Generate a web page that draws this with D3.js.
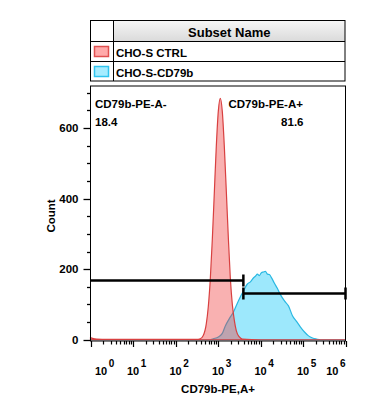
<!DOCTYPE html>
<html><head><meta charset="utf-8">
<script src="https://cdn.jsdelivr.net/npm/d3@7"></script>
<style>
html,body{margin:0;padding:0;background:#fff;}
svg text{font-family:"Liberation Sans",Arial,sans-serif;font-weight:bold;fill:#000;}
</style></head>
<body><svg id="c" width="367" height="413"></svg>
<script>
// ---- data ----
const xTickExponents = [0,1,2,3,4,5,6];
const yTickValues = [0,200,400,600];
const legendNames = ["CHO-S CTRL","CHO-S-CD79b"];
const gateNames = ["CD79b-PE-A-","CD79b-PE-A+"];
const gatePercents = ["18.4","81.6"];
const gateLeftRange = [1, 3953];
const gateRightRange = [3953, 1000000];
const gateLevels = [169, 133];

const ctrlIntensity = [1,1.12,1.41,2.5,10,32,100,250,308,383,450,530,590,658,733,818,912,1016,1133,1262,1408,1570,1750,1950,2173,2422,2702,3178,3740,10000,100000,1000000];
const ctrlCount     = [6,4,2,1,1,1,1,1,1,3,12,45,93,171,281,415,548,647,684,647,548,420,290,175,100,55,25,8,2,0,0,0];

const cd79Intensity = [1,658,774,1016,1262,1486,1849,2297,3013,3953,4912,5781,6805,7590,8457,9424,10500,11700,13050,14550,16220,18080,21280,25060,29450,36640,45500,56500,70300,87300,108400,134900,167500,208000,258800,1000000];
const cd79Count     = [0,0,3,8,18,39,60,78,110,138,158,164,175,180,186,182,190,192,194,186,185,176,160,145,128,110,96,68,52,36,22,11,5,2,0,0];

// ---- layout ----
const L = 90.5, R = 345.5, T = 86, B = 341;
const svg = d3.select("#c");
const x = d3.scaleLog().domain([1, 1e6]).range([L, R]);
const y = d3.scaleLinear().domain([-3.5, 719]).range([B, T]);

// legend table
const defs = svg.append("defs");
const g1 = defs.append("linearGradient").attr("id","hdr").attr("x1",0).attr("y1",0).attr("x2",0).attr("y2",1);
g1.append("stop").attr("offset","0%").attr("stop-color","#f6f6f6");
g1.append("stop").attr("offset","100%").attr("stop-color","#dadada");

const tb = {l:90.5, r:345, t:20.5, col:113.5, rows:[41.5,61.5], b:81};
svg.append("rect").attr("x",tb.col).attr("y",tb.t).attr("width",tb.r-tb.col).attr("height",tb.rows[0]-tb.t).attr("fill","url(#hdr)");
svg.append("rect").attr("x",tb.l).attr("y",tb.t).attr("width",tb.r-tb.l).attr("height",tb.b-tb.t).attr("fill","none").attr("stroke","#000").attr("stroke-width",1);
svg.append("line").attr("x1",tb.col).attr("x2",tb.col).attr("y1",tb.t).attr("y2",tb.b).attr("stroke","#000");
tb.rows.forEach(r=>svg.append("line").attr("x1",tb.l).attr("x2",tb.r).attr("y1",r).attr("y2",r).attr("stroke","#000"));
svg.append("text").attr("x",(tb.col+tb.r)/2).attr("y",37).attr("text-anchor","middle").style("font-size","13px").text("Subset Name");

const swFill = ["#ffaaaa","#a6ecff"], swStroke = ["#e05050","#30c4ee"];
legendNames.forEach((n,i)=>{
  const ry = tb.rows[i];
  svg.append("rect").attr("x",94.5).attr("y",ry+5).attr("width",14).attr("height",10).attr("fill",swFill[i]).attr("stroke",swStroke[i]).attr("stroke-width",1.5);
  svg.append("text").attr("x",116).attr("y",ry+15).style("font-size","11.5px").text(n);
});

// histograms
const area = d3.area().x(d=>x(d[0])).y0(y(0)).y1(d=>y(d[1])).curve(d3.curveMonotoneX);
const cd79 = cd79Intensity.map((v,i)=>[v,cd79Count[i]]);
const ctrl = ctrlIntensity.map((v,i)=>[v,ctrlCount[i]]);
svg.append("path").attr("d",area(cd79)).attr("fill","rgba(60,210,250,0.5)").attr("stroke","#2ab8e2").attr("stroke-width",1.2);
svg.append("path").attr("d",area(ctrl)).attr("fill","rgba(240,60,60,0.4)").attr("stroke","#d84040").attr("stroke-width",1.2);

// frame
svg.append("rect").attr("x",L).attr("y",T).attr("width",R-L).attr("height",B-T).attr("fill","none").attr("stroke","#000").attr("stroke-width",1);

// y axis ticks
const yMinor = d3.range(0, 701, 50);
yMinor.forEach(v=>{
  const major = yTickValues.includes(v);
  svg.append("line").attr("x1",L-(major?7:3.5)).attr("x2",L).attr("y1",Math.round(y(v))+0.5).attr("y2",Math.round(y(v))+0.5).attr("stroke","#000").attr("stroke-width",1.3);
});
yTickValues.forEach(v=>{
  svg.append("text").attr("x",78.5).attr("y",y(v)+4).attr("text-anchor","end").style("font-size","11.5px").text(v);
});
svg.append("text").attr("transform",`translate(55,216) rotate(-90)`).attr("text-anchor","middle").style("font-size","11.5px").text("Count");

// x axis ticks
const xTicks = [];
xTickExponents.forEach(e=>{
  xTicks.push({v:Math.pow(10,e), major:true});
  if (e<6) for (let k=2;k<=9;k++) xTicks.push({v:k*Math.pow(10,e), major:false});
});
xTicks.forEach(t=>{
  const px = Math.round(x(t.v))+0.5;
  svg.append("line").attr("x1",px).attr("x2",px).attr("y1",B).attr("y2",B+(t.major?6:3.5)).attr("stroke","#000").attr("stroke-width",1.2);
});
xTickExponents.forEach(e=>{
  const cx = x(Math.pow(10,e));
  const g = svg.append("text").attr("y",375).style("font-size","11px");
  g.append("tspan").text("10");
  g.append("tspan").attr("dy",-8.5).attr("dx",1.5).style("font-size","10px").text(e);
  const w = g.node().getComputedTextLength();
  const w10 = g.node().getSubStringLength(0,2);
  let left = cx - w10/2;
  left = Math.max(95, Math.min(left, R - w - 1.5));
  g.attr("x", left);
});
svg.append("text").attr("x",(L+R)/2).attr("y",393).attr("text-anchor","middle").style("font-size","11.5px").text("CD79b-PE,A+");

// gates
function gate(range, level, capLeft){
  const gy = Math.round(y(level))+0.5;
  const x0 = x(range[0]), x1 = x(range[1]);
  svg.append("line").attr("x1",x0).attr("x2",x1).attr("y1",gy).attr("y2",gy).attr("stroke","#000").attr("stroke-width",2.5);
  [x0,x1].forEach((xx,i)=>{
    if (i===0 && !capLeft) return;
    svg.append("line").attr("x1",xx).attr("x2",xx).attr("y1",gy-6).attr("y2",gy+6).attr("stroke","#000").attr("stroke-width",2.5);
  });
}
gate(gateLeftRange, gateLevels[0], false);
gate(gateRightRange, gateLevels[1], true);

svg.append("text").attr("x",95).attr("y",108).style("font-size","11.5px").text(gateNames[0]);
svg.append("text").attr("x",95).attr("y",126).style("font-size","11.5px").text(gatePercents[0]);
svg.append("text").attr("x",228.5).attr("y",108).style("font-size","11.5px").text(gateNames[1]);
svg.append("text").attr("x",303.5).attr("y",126).attr("text-anchor","end").style("font-size","11.5px").text(gatePercents[1]);
</script></body></html>
